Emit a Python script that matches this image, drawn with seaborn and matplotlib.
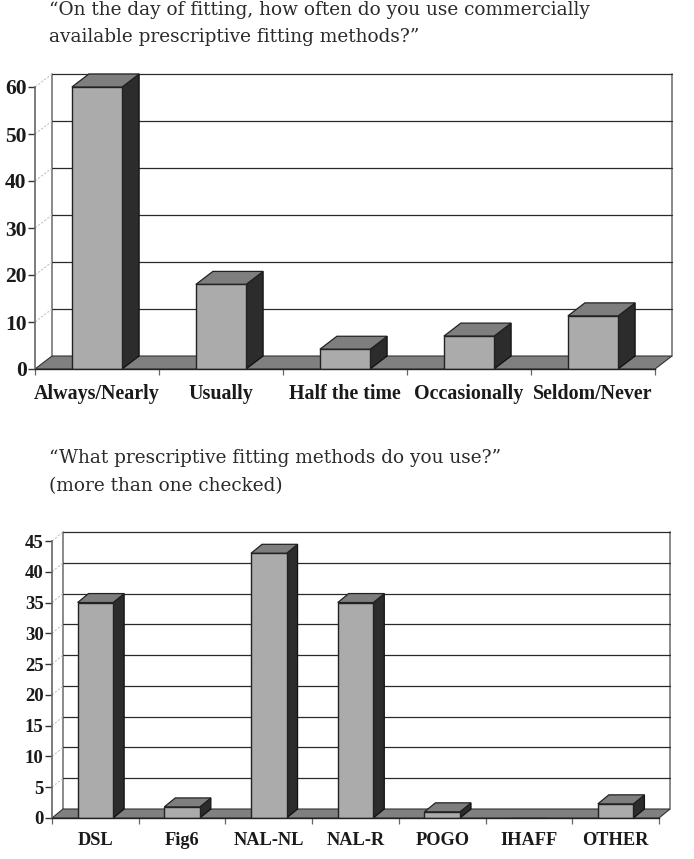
import matplotlib
matplotlib.use("Agg")
import matplotlib.pyplot as plt
from matplotlib.patches import Polygon
import pandas as pd
import seaborn as sns

FIG_W, FIG_H = 694, 859

freq_labels = ['Always/Nearly', 'Usually', 'Half the time', 'Occasionally', 'Seldom/Never']
freq_values = [60, 18, 4.2, 7, 11.3]
freq_ticks = [0, 10, 20, 30, 40, 50, 60]

method_labels = ['DSL', 'Fig6', 'NAL-NL', 'NAL-R', 'POGO', 'IHAFF', 'OTHER']
method_values = [35, 1.8, 43, 35, 1, 0, 2.3]
method_ticks = [0, 5, 10, 15, 20, 25, 30, 35, 40, 45]

FRONT = '#ababab'
SIDE = '#2c2c2c'
TOP = '#7e7e7e'
FLOOR = '#808080'
WALL = '#777777'


def add_axes_px(fig, left, right, top, bottom):
    return fig.add_axes([left / FIG_W, 1 - bottom / FIG_H,
                         (right - left) / FIG_W, (bottom - top) / FIG_H])


def draw_panel(ax, labels, values, ticks, depth_px, bar_width, tick_size, label_size, label_pad):
    df = pd.DataFrame({'cat': labels, 'val': values})
    sns.barplot(data=df, x='cat', y='val', color=FRONT, saturation=1, width=bar_width,
                edgecolor='#222222', linewidth=1.0, ax=ax, zorder=5)
    n = len(labels)
    ax.set_xlim(-0.5, n - 0.5)
    ax.set_ylim(0, ticks[-1])
    ax.patch.set_alpha(0)

    # depth of the fake 3d box, in data units
    pos = ax.get_window_extent()
    dx = depth_px[0] * n / pos.width
    dy = depth_px[1] * ticks[-1] / pos.height
    x0, x1 = -0.5, n - 0.5
    ymax = ticks[-1]

    # floor and walls
    ax.add_patch(Polygon([(x0, 0), (x1, 0), (x1 + dx, dy), (x0 + dx, dy)], closed=True,
                         fc=FLOOR, ec='#333333', lw=0.8, zorder=2, clip_on=False))
    ax.plot([x0 + dx, x0 + dx], [dy, ymax + dy], color=WALL, lw=1.2, zorder=1, clip_on=False)
    ax.plot([x1 + dx, x1 + dx], [dy, ymax + dy], color=WALL, lw=1.2, zorder=1, clip_on=False)
    for t in ticks[1:]:
        ax.plot([x0, x0 + dx], [t, t + dy], color='#c4c4c4', lw=0.8, ls=(0, (2, 1.5)), zorder=1,
                clip_on=False)
        ax.plot([x0 + dx, x1 + dx], [t + dy, t + dy], color='#2a2a2a', lw=0.9, zorder=1,
                clip_on=False)

    # sides and tops of the bars, taken from what seaborn drew
    for bar in ax.patches[:n]:
        h = bar.get_height()
        if h <= 0:
            continue
        a, b = bar.get_x(), bar.get_x() + bar.get_width()
        ax.add_patch(Polygon([(b, 0), (b + dx, dy), (b + dx, h + dy), (b, h)], closed=True,
                             fc=SIDE, ec='#111111', lw=0.9, zorder=4, clip_on=False))
        ax.add_patch(Polygon([(a, h), (b, h), (b + dx, h + dy), (a + dx, h + dy)], closed=True,
                             fc=TOP, ec='#222222', lw=0.9, zorder=4, clip_on=False))

    sns.despine(ax=ax, top=True, right=True)
    ax.spines['left'].set_color('#666666')
    ax.spines['left'].set_linewidth(1.2)
    ax.spines['bottom'].set_color('#222222')
    ax.spines['bottom'].set_linewidth(1.0)
    ax.spines['bottom'].set_zorder(6)

    ax.set_yticks(ticks)
    ax.set_xticks(range(n))
    ax.set_xticks([i - 0.5 for i in range(n + 1)], minor=True)
    ax.set_xticklabels(labels)
    ax.tick_params(axis='x', which='major', bottom=False, length=0, pad=label_pad, labelsize=label_size)
    ax.tick_params(axis='x', which='minor', bottom=True, length=4, width=0.9, color='#666666')
    ax.tick_params(axis='y', left=True, length=5, width=1.0, color='#333333', pad=1, labelsize=tick_size)
    for t in ax.get_xticklabels() + ax.get_yticklabels():
        t.set_fontweight('bold')
        t.set_color('#1a1a1a')
    ax.set(xlabel='', ylabel='')


sns.set_style('white')
plt.rcParams['font.family'] = ['Liberation Serif', 'DejaVu Serif']

fig = plt.figure(figsize=(FIG_W / 100, FIG_H / 100), dpi=100, facecolor='white')

ax1 = add_axes_px(fig, 35, 655, 87, 369)
draw_panel(ax1, freq_labels, freq_values, freq_ticks, (17, 13), 0.405, 15.5, 14.4, 11)

ax2 = add_axes_px(fig, 52, 659, 541, 818)
draw_panel(ax2, method_labels, method_values, method_ticks, (11, 9), 0.41, 13.5, 13.2, 10)

title_specs = {'family': 'DejaVu Serif', 'fontsize': 13.3, 'color': '#2a2a2a', 'va': 'center'}
fig.text(49 / FIG_W, 1 - 10 / FIG_H, '\u201cOn the day of fitting, how often do you use commercially', **title_specs)
fig.text(49 / FIG_W, 1 - 37 / FIG_H, 'available prescriptive fitting methods?\u201d', **title_specs)
fig.text(49 / FIG_W, 1 - 458 / FIG_H, '\u201cWhat prescriptive fitting methods do you use?\u201d', **title_specs)
fig.text(49 / FIG_W, 1 - 486 / FIG_H, '(more than one checked)', **title_specs)

fig.savefig('out.png', dpi=100)
